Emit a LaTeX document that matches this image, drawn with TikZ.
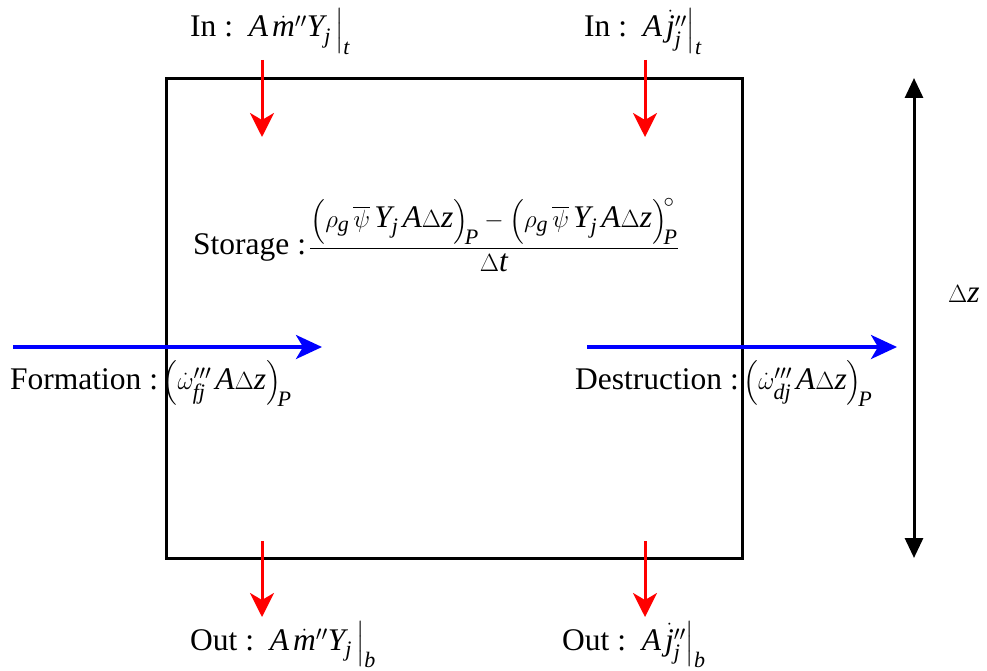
\documentclass[tikz,border=0pt]{standalone}
\usepackage{amsmath}
\usepackage{fontspec}
\setmainfont{Liberation Serif}
\usetikzlibrary{arrows.meta}
\newcommand\ti[1]{\mathit{#1}}
\begin{document}
\begin{tikzpicture}[x=1pt,y=-1pt,
  lbl/.style={inner sep=0pt, font=\fontsize{31.5}{37}\selectfont},
  boxst/.style={draw=black, line width=3pt, inner sep=0pt},
  redarr/.style={draw={rgb,255:red,255;green,0;blue,0}, line width=3pt, -{Stealth[length=24pt,width=24pt,inset=7pt]}},
  bluearr/.style={draw={rgb,255:red,0;green,0;blue,255}, line width=3.5pt, -{Stealth[length=26pt,width=24pt,inset=7pt]}},
  dimarr/.style={draw=black, line width=3pt, {Triangle[length=20pt,width=18pt]}-{Triangle[length=20pt,width=18pt]}}]
\useasboundingbox (0,0) rectangle (987,671);
% control volume
\node[boxst, minimum width=576pt, minimum height=479pt] (box) at (454,318.5) {};
% red in/out arrows
\coordinate (a1s) at (262,60);  \coordinate (a1e) at (262,137);
\coordinate (a2s) at (645,60);  \coordinate (a2e) at (645,137);
\coordinate (a3s) at (262,541); \coordinate (a3e) at (262,617);
\coordinate (a4s) at (645,541); \coordinate (a4e) at (645,617);
\draw[redarr] (a1s) -- (a1e);
\draw[redarr] (a2s) -- (a2e);
\draw[redarr] (a3s) -- (a3e);
\draw[redarr] (a4s) -- (a4e);
% blue arrows
\coordinate (b1s) at (13,347);  \coordinate (b1e) at (322,347);
\coordinate (b2s) at (587,347); \coordinate (b2e) at (897,347);
\draw[bluearr] (b1s) -- (b1e);
\draw[bluearr] (b2s) -- (b2e);
% dimension arrow
\coordinate (dzt) at (914,78); \coordinate (dzb) at (914,558);
\draw[dimarr] (dzt) -- (dzb);
\node[lbl, anchor=base west] (dz) at (948,302) {$\Delta\ti{z}$};
% labels
\node[lbl, anchor=base west] (in1) at (190,37) {In :\hspace{0.5em}$\ti{A}\,\dot{\ti{m}}''\ti{Y}_{\ti{j}}\,\Bigr|_{\ti{t}}$};
\node[lbl, anchor=base west] (in2) at (584,37) {In :\hspace{0.5em}$\ti{A}\,\dot{\ti{j}}''_{\ti{j}}\Bigr|_{\ti{t}}$};
\node[lbl, anchor=base west] (out1) at (190,650) {Out :\hspace{0.5em}$\ti{A}\,\dot{\ti{m}}''\ti{Y}_{\ti{j}}\,\Bigr|_{\ti{b}}$};
\node[lbl, anchor=base west] (out2) at (562,650) {Out :\hspace{0.5em}$\ti{A}\,\dot{\ti{j}}''_{\ti{j}}\Bigr|_{\ti{b}}$};
\node[lbl, anchor=west] (stor) at (193,235) {Storage :\hspace{0.1em}$\dfrac{\Bigl(\rho_{\ti{g}}\,\overline{\psi}\,\ti{Y}_{\ti{j}}\,\ti{A}\Delta\ti{z}\Bigr)_{\!\ti{P}}-\Bigl(\rho_{\ti{g}}\,\overline{\psi}\,\ti{Y}_{\ti{j}}\,\ti{A}\Delta\ti{z}\Bigr)_{\!\ti{P}}^{\!\circ}}{\Delta\ti{t}}$};
\node[lbl, anchor=base west] (form) at (10,389) {Formation :\hspace{0.15em}$\Bigl(\dot{\omega}'''_{\ti{fj}}\,\ti{A}\Delta\ti{z}\Bigr)_{\!\ti{P}}$};
\node[lbl, anchor=base west] (dest) at (575,389) {Destruction :\hspace{0.15em}$\Bigl(\dot{\omega}'''_{\ti{dj}}\,\ti{A}\Delta\ti{z}\Bigr)_{\!\ti{P}}$};
\end{tikzpicture}
\end{document}
